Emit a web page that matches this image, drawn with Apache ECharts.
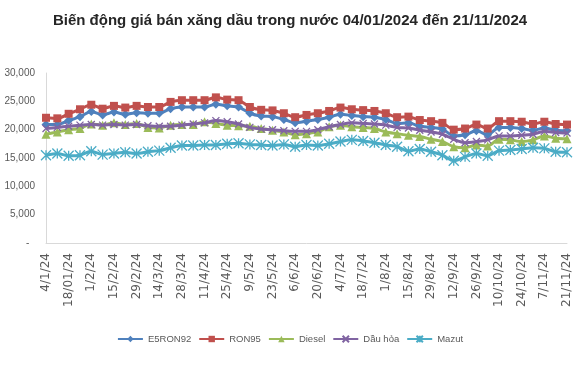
<!DOCTYPE html>
<html>
<head>
<meta charset="utf-8">
<script src="https://cdn.jsdelivr.net/npm/echarts@6/dist/echarts.min.js"></script>
<style>
html,body{margin:0;padding:0;background:#fff;}
#chart{width:580px;height:371px;}
</style>
</head>
<body>
<div id="chart"></div>
<script>
const titleText = "Biến động giá bán xăng dầu trong nước 04/01/2024 đến 21/11/2024";

const categories = [
  "4/1/24","11/1/24","18/01/24","25/1/24","1/2/24","8/2/24","15/2/24","22/2/24","29/2/24",
  "7/3/24","14/3/24","21/3/24","28/3/24","4/4/24","11/4/24","18/4/24","25/4/24",
  "2/5/24","9/5/24","16/5/24","23/5/24","30/5/24","6/6/24","13/6/24","20/6/24","27/6/24",
  "4/7/24","11/7/24","18/7/24","25/7/24","1/8/24","8/8/24","15/8/24","22/8/24","29/8/24",
  "5/9/24","12/9/24","19/9/24","26/9/24","3/10/24","10/10/24","17/10/24","24/10/24","31/10/24",
  "7/11/24","14/11/24","21/11/24"
];

const seriesNames = ["E5RON92", "RON95", "Diesel", "Dầu hỏa", "Mazut"];

const e5ron92 = [20900,20900,21600,22300,23200,22600,23100,22700,23000,22900,22900,23700,24000,24000,24000,24500,24200,
  24000,22900,22400,22300,21800,21200,21500,21800,22200,22700,22500,22300,22200,21800,21100,21200,20600,20400,
  20100,18900,19100,19800,19100,20400,20400,20200,19900,20300,19900,19800];

const ron95 = [22100,22000,22800,23600,24400,23700,24200,23900,24200,24000,24000,24900,25200,25200,25200,25700,25300,
  25200,24000,23500,23400,22900,22200,22600,22900,23300,23900,23600,23450,23300,22900,22200,22300,21700,21500,
  21200,20000,20200,20900,20200,21500,21500,21400,21000,21400,21000,20900];

const diesel = [19200,19600,20000,20200,21000,20800,21200,20900,21100,20400,20300,20800,20900,20900,21400,21100,20800,
  20700,20600,20200,19900,19600,19100,19300,19600,20500,20800,20500,20400,20200,19600,19300,19000,18800,18300,
  17900,17000,16800,17300,17100,18300,18200,17900,18200,18900,18500,18400];

const dauHoa = [20200,20400,20600,20800,20900,20800,20900,20800,20900,20700,20600,20600,20800,21000,21200,21600,21400,
  21000,20400,20100,20000,19800,19700,19700,20000,20500,20900,21200,21100,21000,20800,20400,20300,19900,19600,
  19200,18300,17700,17900,18200,18900,18900,19000,19200,19700,19500,19400];

const mazut = [15500,15800,15400,15500,16200,15600,15800,16000,15800,16100,16300,16800,17200,17200,17300,17300,17500,
  17600,17400,17300,17200,17400,17000,17300,17200,17500,17900,18200,18000,17700,17300,17000,16200,16600,16100,
  15500,14500,15200,15800,15400,16300,16400,16600,16800,16700,16100,16000];

const yMin = 0, yMax = 30000, yStep = 5000;

const colors = ["#4F81BD", "#C0504D", "#9BBB59", "#8064A2", "#4BACC6"];
const xSymbol = "path://M0,0L10,10M10,0L0,10";
const starSymbol = "path://M5,0L5,10M0,0L10,10M10,0L0,10";
const symbols = ["diamond", "rect", "triangle", xSymbol, starSymbol];
const symbolSizes = [9, 8, 9, 7, 10];
const dataSets = [e5ron92, ron95, diesel, dauHoa, mazut];

const chart = echarts.init(document.getElementById("chart"), null, {renderer: "canvas"});
chart.setOption({
  animation: false,
  backgroundColor: "#fff",
  color: colors,
  title: {
    text: titleText,
    left: "center",
    top: 8,
    textStyle: {fontFamily: "Liberation Sans, Arial", fontWeight: "bold", fontSize: 15, color: "#262626"}
  },
  grid: {left: 46, right: 13, top: 73, bottom: 128, containLabel: false},
  xAxis: {
    type: "category",
    data: categories,
    boundaryGap: false,
    axisLine: {lineStyle: {color: "#D9D9D9", width: 1}},
    axisTick: {show: false},
    axisLabel: {
      rotate: 90, interval: 1, margin: 10,
      fontFamily: "DejaVu Sans", fontSize: 12, color: "#595959"
    },
    splitLine: {show: false}
  },
  yAxis: {
    type: "value",
    min: yMin, max: yMax, interval: yStep,
    axisLine: {show: true, lineStyle: {color: "#D9D9D9", width: 1}},
    axisTick: {show: false},
    splitLine: {show: false},
    axisLabel: {
      margin: 11,
      fontFamily: "Liberation Sans, Arial", fontSize: 10, color: "#595959",
      formatter: v => v === 0 ? "-  " : v.toLocaleString("en-US")
    }
  },
  legend: {
    top: 329,
    left: "center",
    itemWidth: 25,
    itemHeight: 8,
    itemGap: 7,
    textStyle: {fontFamily: "Liberation Sans, Arial", fontSize: 9.5, color: "#595959"},
    data: seriesNames
  },
  series: dataSets.map((d, i) => ({
    name: seriesNames[i],
    type: "line",
    data: d,
    smooth: 0.25,
    symbol: symbols[i],
    symbolSize: symbolSizes[i],
    showAllSymbol: true,
    lineStyle: {width: 3, color: colors[i]},
    itemStyle: {color: colors[i], borderColor: colors[i], borderWidth: i >= 3 ? 1.3 : 0},
    z: 2 + i
  }))
});
</script>
</body>
</html>
